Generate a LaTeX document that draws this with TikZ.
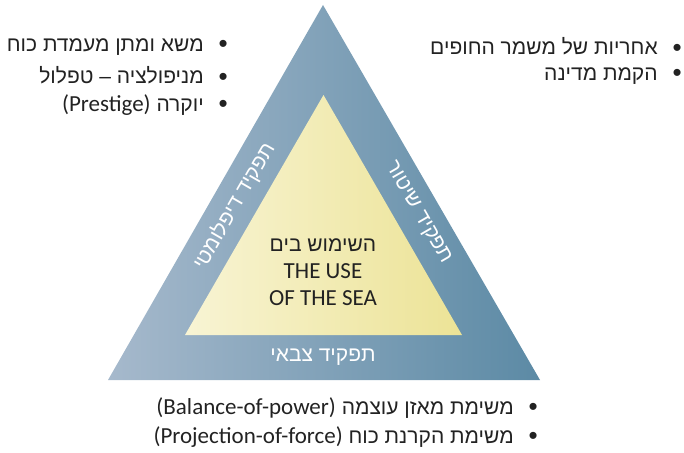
\documentclass[tikz,border=0pt]{standalone}
\usepackage{fontspec}
\usepackage{tikz}
\setmainfont{Carlito}
\newfontfamily\hebfont[Script=Hebrew]{Liberation Sans}
\newfontfamily\latfont{Carlito}
\TeXXeTstate=1
\definecolor{bandleft}{RGB}{166,185,204}
\definecolor{bandright}{RGB}{92,138,165}
\definecolor{coreleft}{RGB}{248,244,212}
\definecolor{coreright}{RGB}{236,227,150}
\definecolor{inktext}{RGB}{34,34,34}
\newcommand{\itemdot}{\raisebox{-1.5pt}{\fontsize{26}{26}\selectfont •}\hspace{15pt}}
\newcommand{\latpart}[1]{\beginL{\latfont\fontsize{23}{25}\selectfont #1}\endL}

\begin{document}
\begin{tikzpicture}[x=1pt, y=-1pt,
    item/.style={anchor=east, inner sep=0pt, text=inktext, font=\hebfont\fontsize{21}{25}\selectfont},
    side/.style={inner sep=0pt, text=white, font=\hebfont\fontsize{21}{24}\selectfont},
    coretext/.style={align=center, inner sep=0pt, text=inktext, font=\fontsize{23}{27}\selectfont}]
    \useasboundingbox (0,0) rectangle (684,452);

    % outer band and inner core
    \coordinate (otop) at (323,5);
    \coordinate (oleft) at (108,380);
    \coordinate (oright) at (540,380);
    \coordinate (itop) at (323.5,95);
    \coordinate (ileft) at (185,335);
    \coordinate (iright) at (462,335);
    \shade [left color=bandleft, right color=bandright] (oleft) -- (otop) -- (oright) -- cycle;
    \shade [left color=coreleft, right color=coreright] (ileft) -- (itop) -- (iright) -- cycle;

    \node [coretext] (core) at (323,272) {{\hebfont\fontsize{21}{27}\selectfont\beginR השימוש בים\endR}\\THE USE\\OF THE SEA};

    \node [side, rotate=60] (dipl) at (234,206) {\beginR תפקיד דיפלומטי\endR};
    \node [side, rotate=-60] (police) at (418,213) {\beginR תפקיד שיטור\endR};
    \node [side] (army) at (323,357) {\beginR תפקיד צבאי\endR};

    % diplomatic role
    \node [item] (dip1) at (228,47) {\beginR\itemdot משא ומתן מעמדת כוח\endR};
    \node [item] (dip2) at (228,76) {\beginR\itemdot מניפולציה – טפלול\endR};
    \node [item] (dip3) at (228,105) {\beginR\itemdot יוקרה \latpart{(Prestige)}\endR};

    % policing role
    \node [item] (pol1) at (682,47) {\beginR\itemdot אחריות של משמר החופים\endR};
    \node [item] (pol2) at (682,76) {\beginR\itemdot הקמת מדינה\endR};

    % military role
    \node [item] (mil1) at (538,408) {\beginR\itemdot משימת מאזן עוצמה \latpart{(Balance-of-power)}\endR};
    \node [item] (mil2) at (538,437) {\beginR\itemdot משימת הקרנת כוח \latpart{(Projection-of-force)}\endR};
\end{tikzpicture}
\end{document}
